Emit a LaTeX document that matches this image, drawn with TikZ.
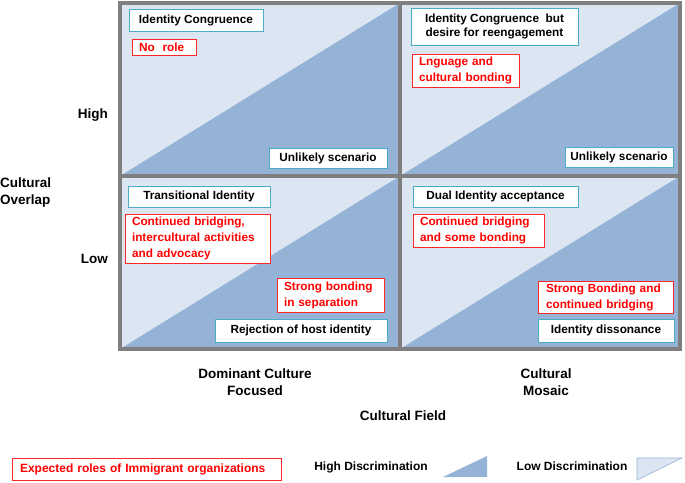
\documentclass[tikz,border=0pt]{standalone}
\usepackage{fontspec}
\setmainfont{Liberation Sans}
\usetikzlibrary{shadows}
\definecolor{lightfill}{HTML}{DCE6F2}
\definecolor{darkfill}{HTML}{95B3D7}
\definecolor{gridgray}{HTML}{7F7F7F}
\definecolor{tealedge}{HTML}{4BACC6}
\definecolor{redtext}{HTML}{FF0000}
\begin{document}
\begin{tikzpicture}[x=1pt,y=-1pt,
 idbox/.style={draw=tealedge, fill=white, line width=0.8pt,
   drop shadow={shadow xshift=1.3pt, shadow yshift=-1.3pt, opacity=0.35},
   font=\fontsize{11.8}{13.5}\selectfont\bfseries, align=center, inner sep=0pt},
 rolebox/.style={draw=redtext!85, fill=white, line width=0.8pt, text=redtext,
   font=\fontsize{11.8}{16}\selectfont\bfseries, align=left,
   inner xsep=7pt, inner ysep=0pt},
 axislabel/.style={font=\fontsize{13.5}{17}\selectfont\bfseries, inner sep=0pt},
 legendtext/.style={font=\fontsize{12}{14}\selectfont\bfseries, inner sep=0pt},
 gridline/.style={draw=gridgray, line width=3.5pt}]
\useasboundingbox (0,0) rectangle (685,482);

% cell fills
\fill[lightfill] (120,3) rectangle (680,349);
\fill[darkfill] (120,176) -- (400,3) -- (400,176) -- cycle;
\fill[darkfill] (400,176) -- (680,3) -- (680,176) -- cycle;
\fill[darkfill] (120,349) -- (400,176) -- (400,349) -- cycle;
\fill[darkfill] (400,349) -- (680,176) -- (680,349) -- cycle;

% grid
\draw[gridline] (120,3) rectangle (680,349);
\draw[gridline] (400,3) -- (400,349);
\draw[gridline] (120,176) -- (680,176);

% Q1
\node[idbox, minimum width=134pt, minimum height=22pt] (a1) at (196,20) {Identity Congruence};
\node[rolebox, text width=50pt, minimum height=16pt] (r1) at (164,47) {No\ \ role};
\node[idbox, minimum width=118pt, minimum height=20pt] (u1) at (328,158) {Unlikely scenario};

% Q2
\node[idbox, minimum width=167pt, minimum height=37pt] (a2) at (494.5,26.5) {Identity Congruence\ \ but\\desire for reengagement};
\node[rolebox, text width=93pt, minimum height=33pt] (r2) at (465.5,70.5) {\mbox{Lnguage and}\\\mbox{cultural bonding}};
\node[idbox, minimum width=108pt, minimum height=20pt] (u2) at (619,157) {Unlikely scenario};

% Q3
\node[idbox, minimum width=142pt, minimum height=21pt] (a3) at (199,196.5) {Transitional Identity};
\node[rolebox, text width=131pt, minimum height=49pt] (r3) at (197.5,238.5) {Continued bridging,\\intercultural activities\\and advocacy};
\node[rolebox, text width=93pt, minimum height=34pt] (r3b) at (330.5,295) {\mbox{Strong bonding}\\\mbox{in separation}};
\node[idbox, minimum width=172pt, minimum height=23pt] (a3b) at (301,330.5) {Rejection of host identity};

% Q4
\node[idbox, minimum width=165pt, minimum height=21pt] (a4) at (495.5,196.5) {Dual Identity acceptance};
\node[rolebox, text width=117pt, minimum height=33pt] (r4) at (478.5,230.5) {\mbox{Continued bridging}\\\mbox{and some bonding}};
\node[rolebox, inner xsep=8pt, text width=119pt, minimum height=32pt] (r4b) at (605.5,297) {\mbox{Strong Bonding and}\\\mbox{continued bridging}};
\node[idbox, minimum width=136pt, minimum height=23pt] (a4b) at (606,330.5) {Identity dissonance};

% axis labels
\node[axislabel, anchor=east] (high) at (108,115) {High};
\node[axislabel, anchor=east] (low) at (108,259) {Low};
\node[axislabel, anchor=west, align=left] (overlap) at (0,193) {Cultural\\Overlap};
\node[axislabel, align=center] (dom) at (255,382) {Dominant Culture\\Focused};
\node[axislabel, align=center] (mos) at (546,382) {Cultural\\Mosaic};
\node[axislabel] (field) at (403,416) {Cultural Field};

% legend
\node[rolebox, font=\fontsize{12}{14}\selectfont\bfseries, inner xsep=8pt, text width=253pt, minimum height=22pt] (leg) at (146.5,469) {Expected roles of Immigrant organizations};
\node[legendtext] (hd) at (371,467) {High Discrimination};
\fill[darkfill] (443,477) -- (487,456) -- (487,477) -- cycle;
\node[legendtext] (ld) at (572,466) {Low Discrimination};
\filldraw[fill=lightfill, draw=darkfill, line width=0.6pt] (637,458) -- (682,458) -- (637,480) -- cycle;
\end{tikzpicture}
\end{document}
